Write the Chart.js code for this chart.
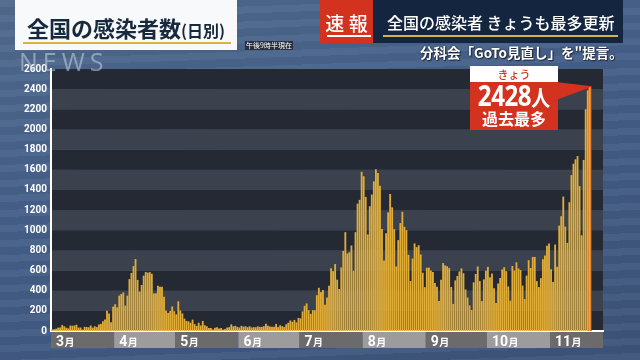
<!DOCTYPE html>
<html lang="ja">
<head>
<meta charset="utf-8">
<title>全国の感染者数(日別)</title>
<script src="https://cdn.jsdelivr.net/npm/chart.js@4"></script>
<style>
  html, body { margin: 0; padding: 0; }
  body {
    width: 640px; height: 360px; overflow: hidden; position: relative;
    background:
      repeating-linear-gradient(178deg, rgba(255,255,255,0.035) 0 7px, rgba(0,0,0,0.03) 7px 15px),
      linear-gradient(165deg, #506a8d 0%, #45608a 40%, #3d5479 100%);
    font-family: "Noto Sans CJK JP", "Noto Sans", sans-serif;
  }
  #chart { position: absolute; left: 0; top: 0; }
  .ov { position: absolute; white-space: nowrap; }
  #logo { left: 19px; top: 44px; font: 400 25px "Open Sans", sans-serif; letter-spacing: 5px; color: rgba(200,212,230,0.55); }
  #titleBox { left: 15px; top: 0; width: 222px; height: 50px; background: rgba(255,255,255,0.96); }
  #title { left: 27px; top: 16px; line-height: 22px; color: #16293d; font-weight: 700; font-size: 22px; }
  #title small { font-size: 16px; font-weight: 700; }
  #titleLine { left: 23px; top: 42px; width: 208px; height: 2px; background: #d8b348; }
  #stamp { left: 245px; top: 41px; width: 48px; height: 9px; background: #283040; color: #fff; font-size: 7px; line-height: 9px; text-align: center; }
  #flash { left: 320px; top: 0; width: 53px; height: 43px; background: #d2321e; }
  #flashText { left: 320px; top: 13px; width: 53px; text-align: center; color: #fff; font-size: 19px; line-height: 19px; font-weight: 500; }
  #flashLine { left: 327px; top: 35px; width: 44px; height: 2px; background: #fff; }
  #head { left: 373px; top: 0; width: 250px; height: 43px; background: #14253f; }
  #headText { left: 387px; top: 14px; color: #fff; font-size: 16px; line-height: 16px; font-weight: 500; }
  #headLine { left: 383px; top: 35px; width: 235px; height: 2px; background: #d8b348; }
  #sub { left: 420px; top: 46px; color: #fff; font-size: 13.5px; line-height: 13.5px; font-weight: 700; text-shadow: 1px 1px 1px #1c2638, 0 0 2px #1c2638; }
  #annTab { left: 470px; top: 66px; width: 88px; height: 16px; background: #fff; color: #d2321e; font-size: 11px; line-height: 16px; text-align: center; font-weight: 500; }
  #annBox { left: 470px; top: 82px; width: 88px; height: 48px; background: #d2321e; }
  #annVal { left: 470px; top: 82px; width: 88px; height: 26px; text-align: center; color: #fff; font-size: 0; line-height: 26px; transform: scaleX(0.86); }
  #annVal .num { font: 700 28px/26px "Noto Sans", sans-serif; letter-spacing: -0.5px; }
  #annVal .unit { font: 700 22px/26px "Noto Sans CJK JP", sans-serif; }
  #annNote { left: 470px; top: 110px; width: 88px; text-align: center; color: #fff; font-size: 16px; line-height: 16px; font-weight: 700; }
</style>
</head>
<body>
<canvas id="chart" width="640" height="360"></canvas>
<div class="ov" id="logo">NEWS</div>
<div class="ov" id="titleBox"></div>
<div class="ov" id="title">全国の感染者数<small>(日別)</small></div>
<div class="ov" id="titleLine"></div>
<div class="ov" id="stamp">午後9時半現在</div>
<div class="ov" id="flash"></div>
<div class="ov" id="flashText">速 報</div>
<div class="ov" id="flashLine"></div>
<div class="ov" id="head"></div>
<div class="ov" id="headText">全国の感染者 きょうも最多更新</div>
<div class="ov" id="headLine"></div>
<div class="ov" id="sub">分科会「GoTo見直し」を"提言。</div>
<div class="ov" id="annTab">きょう</div>
<div class="ov" id="annBox"></div>
<div class="ov" id="annVal"><span class="num" id="todayNum">2428</span><span class="unit">人</span></div>
<div class="ov" id="annNote">過去最多</div>
<script>
// month axis: 3月 .. 11月, the last month runs a few days past today
const months = [3, 4, 5, 6, 7, 8, 9, 10, 11];
const monthDays = [31, 30, 31, 30, 31, 31, 30, 31, 26];

// daily new cases
const mar = [14, 18, 22, 33, 35, 59, 47, 33, 26, 54, 52, 55, 62, 34, 35, 14, 41, 40, 37, 54, 33, 47, 39, 65, 71, 96, 113, 200, 173, 87, 242];
const apr = [266, 235, 351, 367, 383, 252, 351, 515, 576, 644, 714, 507, 391, 457, 549, 585, 579, 584, 568, 373, 374, 450, 438, 438, 341, 203, 180, 199, 243, 197];
const may = [165, 294, 203, 174, 123, 100, 96, 82, 113, 69, 51, 82, 55, 99, 57, 47, 30, 30, 16, 33, 38, 26, 31, 14, 21, 34, 38, 66, 47, 51, 41];
const jun = [35, 51, 44, 46, 38, 47, 35, 38, 37, 46, 41, 41, 48, 72, 52, 45, 42, 41, 70, 39, 57, 47, 41, 67, 82, 105, 92, 110, 86, 130];
const jul = [126, 195, 250, 274, 208, 171, 207, 206, 355, 429, 386, 408, 260, 332, 450, 622, 594, 664, 510, 417, 631, 795, 981, 769, 781, 849, 598, 981, 1264, 1301, 1580];
const aug = [1536, 1331, 958, 1238, 1354, 1485, 1605, 1568, 1442, 1011, 700, 969, 1177, 1360, 1227, 1011, 640, 902, 1071, 1183, 1034, 1002, 756, 496, 719, 869, 832, 851, 760, 578, 435];
const sep = [628, 629, 600, 585, 477, 440, 297, 509, 674, 651, 643, 624, 437, 269, 502, 546, 591, 621, 573, 412, 332, 254, 208, 483, 566, 640, 495, 297, 512, 599];
const oct = [636, 533, 570, 424, 277, 471, 526, 611, 633, 594, 442, 301, 645, 601, 682, 621, 605, 451, 317, 550, 703, 625, 735, 735, 495, 436, 524, 712, 749, 847, 868];
const nov = [613, 487, 858, 637, 1046, 1139, 1334, 1036, 875, 1278, 1547, 1660, 1704, 1736, 1438, 950, 1698, 2201, 2388, 2428];

const yMax = 2600;
const yStep = 200;

const cases = [...mar, ...apr, ...may, ...jun, ...jul, ...aug, ...sep, ...oct, ...nov];
const todayIndex = cases.length - 1;
const todayBar = cases.map((v, i) => (i === todayIndex ? v : null));

const dayLabels = [];
months.forEach((m, i) => {
  for (let d = 1; d <= monthDays[i]; d++) dayLabels.push(`${m}/${d}`);
});

document.getElementById('todayNum').textContent = cases[todayIndex];

const BAND_DARK = '#242933';
const BAND_LIGHT = '#3b414d';

// alternating horizontal stripes behind the bars
const bandsPlugin = {
  id: 'bands',
  beforeDraw(chart) {
    const { ctx, chartArea: a, scales: { y } } = chart;
    ctx.save();
    for (let v = 0; v < yMax; v += yStep) {
      const top = y.getPixelForValue(v + yStep);
      const bottom = y.getPixelForValue(v);
      const k = (yMax - yStep - v) / yStep;
      ctx.fillStyle = k % 2 === 0 ? BAND_DARK : BAND_LIGHT;
      ctx.fillRect(a.left, top, a.right - a.left, bottom - top);
    }
    ctx.restore();
  },
};

// grey month blocks under the x axis
const monthPlugin = {
  id: 'months',
  afterDraw(chart) {
    const { ctx, chartArea: a, scales: { x } } = chart;
    const step = x.getPixelForValue(1) - x.getPixelForValue(0);
    let start = 0;
    ctx.save();
    months.forEach((m, i) => {
      const left = x.getPixelForValue(start) - step / 2;
      start += monthDays[i];
      const right = i === months.length - 1 ? a.right : x.getPixelForValue(start) - step / 2;
      ctx.fillStyle = i % 2 ? '#9c9c9c' : '#6b6b6b';
      ctx.fillRect(left, a.bottom + 1, right - left, 16);
      ctx.fillStyle = '#fff';
      ctx.textBaseline = 'alphabetic';
      ctx.font = 'bold 14px Roboto';
      const num = String(m);
      ctx.fillText(num, left + 5, a.bottom + 15);
      const w = ctx.measureText(num).width;
      ctx.font = 'bold 10px "Noto Sans CJK JP"';
      ctx.fillText('月', left + 5 + w + 0.5, a.bottom + 15);
    });
    ctx.restore();
  },
};

// red wedge from the callout box to today's bar
const pointerPlugin = {
  id: 'pointer',
  afterDatasetsDraw(chart) {
    const bar = chart.getDatasetMeta(1).data[todayIndex];
    if (!bar) return;
    const { ctx } = chart;
    ctx.save();
    ctx.fillStyle = '#d2321e';
    ctx.beginPath();
    ctx.moveTo(556, 82);
    ctx.lineTo(bar.x + bar.width / 2, bar.y);
    ctx.lineTo(bar.x - bar.width / 2, bar.y + 2);
    ctx.lineTo(556, 100);
    ctx.closePath();
    ctx.fill();
    ctx.restore();
  },
};

const ctx = document.getElementById('chart').getContext('2d');
// eslint-disable-next-line no-undef
new Chart(ctx, {
  type: 'bar',
  data: {
    labels: dayLabels,
    datasets: [
      {
        label: '感染者数',
        data: cases,
        backgroundColor: '#e0ad38',
        barPercentage: 0.9,
        categoryPercentage: 1,
        grouped: false,
      },
      {
        label: 'きょう',
        data: todayBar,
        backgroundColor: '#d8321f',
        barPercentage: 1.9,
        categoryPercentage: 1,
        grouped: false,
      },
    ],
  },
  options: {
    responsive: false,
    animation: false,
    layout: { padding: { top: 69, right: 37, bottom: 0, left: 0 } },
    plugins: { legend: { display: false }, tooltip: { enabled: false } },
    scales: {
      x: {
        ticks: { display: false },
        grid: { display: false },
        border: { color: '#ffffff', width: 2 },
        afterFit(s) { s.height = 29; },
      },
      y: {
        min: 0,
        max: yMax,
        ticks: {
          stepSize: yStep,
          color: '#ffffff',
          font: { family: 'Roboto', weight: 'bold', size: 10 },
          padding: 4,
          callback: (v) => String(v),
        },
        grid: { display: false, drawTicks: false },
        border: { color: '#ffffff', width: 2 },
        afterFit(s) { s.width = 51; },
      },
    },
  },
  plugins: [bandsPlugin, monthPlugin, pointerPlugin],
});
</script>
</body>
</html>
